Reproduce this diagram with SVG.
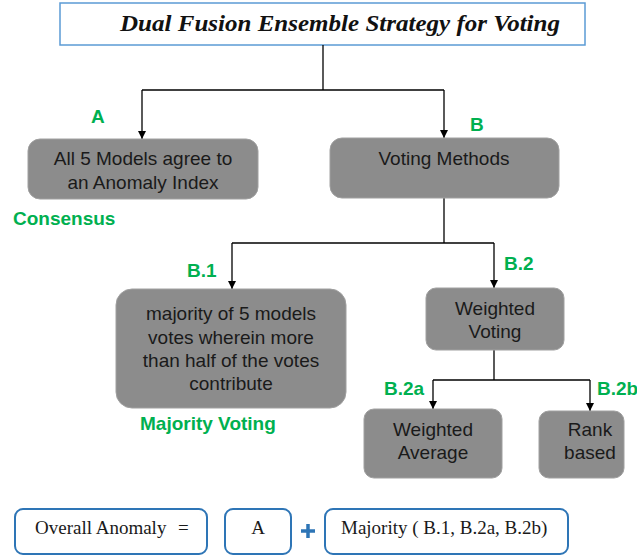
<svg xmlns="http://www.w3.org/2000/svg" width="637" height="559" viewBox="0 0 637 559">
<defs>
<marker id="arr" viewBox="0 0 10 10" refX="10" refY="5" markerWidth="8" markerHeight="8" markerUnits="userSpaceOnUse" orient="auto">
<path d="M0,0 L10,5 L0,10 z" fill="#000"/>
</marker>
<style>
.box{fill:#8c8c8c;stroke:#a0a0a0;stroke-width:1}
.t{font-family:"Liberation Sans",Arial,sans-serif;font-size:19px;fill:#1a1a1a;text-anchor:middle}
.g{font-family:"Liberation Sans",Arial,sans-serif;font-size:19px;font-weight:bold;fill:#00b050}
.con{fill:none;stroke:#000;stroke-width:1.3}
.eq{fill:#fff;stroke:#2e75b6;stroke-width:2}
.s{font-family:"Liberation Serif","Times New Roman",serif;font-size:19px;fill:#1a1a1a}
</style>
</defs>
<rect width="637" height="559" fill="#fff"/>
<g id="title">
<rect x="60" y="3" width="525" height="42" fill="#fff" stroke="#5b9bd5" stroke-width="1.5"/>
<text x="120" y="31" font-family="'Liberation Serif','Times New Roman',serif" font-size="23" font-weight="bold" font-style="italic" fill="#111" textLength="440" lengthAdjust="spacingAndGlyphs">Dual Fusion Ensemble Strategy for Voting</text>
</g>
<g id="connectors">
<path class="con" d="M323,45 V90"/>
<path class="con" d="M142,90 H444"/>
<path class="con" d="M142,90 V139" marker-end="url(#arr)"/>
<path class="con" d="M444,90 V138" marker-end="url(#arr)"/>
<path class="con" d="M444,198 V243"/>
<path class="con" d="M232,243 H494"/>
<path class="con" d="M232,243 V289" marker-end="url(#arr)"/>
<path class="con" d="M494,243 V288" marker-end="url(#arr)"/>
<path class="con" d="M494,350 V380"/>
<path class="con" d="M433,380 H590"/>
<path class="con" d="M433,380 V409" marker-end="url(#arr)"/>
<path class="con" d="M590,380 V411" marker-end="url(#arr)"/>
</g>
<g id="nodeA">
<text class="g" x="91" y="123">A</text>
<rect class="box" x="28" y="139" width="230" height="60" rx="12"/>
<text class="t" x="143" y="165">All 5 Models agree to</text>
<text class="t" x="143" y="189">an Anomaly Index</text>
<text class="g" x="13" y="225" font-size="20.5">Consensus</text>
</g>
<g id="nodeB">
<text class="g" x="470" y="131">B</text>
<rect class="box" x="330" y="138" width="229" height="60" rx="12"/>
<text class="t" x="444" y="165">Voting Methods</text>
</g>
<g id="nodeB1">
<text class="g" x="187" y="277">B.1</text>
<rect class="box" x="116" y="289" width="230" height="119" rx="16"/>
<text class="t" x="231" y="320">majority of 5 models</text>
<text class="t" x="231" y="344">votes wherein more</text>
<text class="t" x="231" y="367">than half of the votes</text>
<text class="t" x="231" y="390">contribute</text>
<text class="g" x="140" y="430" font-size="20.5">Majority Voting</text>
</g>
<g id="nodeB2">
<text class="g" x="504" y="270">B.2</text>
<rect class="box" x="426" y="288" width="138" height="62" rx="10"/>
<text class="t" x="495" y="315">Weighted</text>
<text class="t" x="495" y="338">Voting</text>
</g>
<g id="nodeB2a">
<text class="g" x="384" y="395">B.2a</text>
<rect class="box" x="364" y="409" width="138" height="69" rx="10"/>
<text class="t" x="433" y="436">Weighted</text>
<text class="t" x="433" y="459">Average</text>
</g>
<g id="nodeB2b">
<text class="g" x="597" y="395">B.2b</text>
<rect class="box" x="539" y="411" width="85" height="67" rx="10"/>
<text class="t" x="590" y="436">Rank</text>
<text class="t" x="590" y="459">based</text>
</g>
<g id="formula">
<rect class="eq" x="15" y="509" width="192" height="45" rx="8"/>
<text class="s" x="35" y="534">Overall Anomaly  <tspan x="178">=</tspan></text>
<rect class="eq" x="225" y="509" width="66" height="45" rx="8"/>
<text class="s" x="258" y="534" text-anchor="middle">A</text>
<path d="M308,524 V538 M301,531 H315" stroke="#2e75b6" stroke-width="3.5" fill="none"/>
<rect class="eq" x="325" y="509" width="243" height="45" rx="8"/>
<text class="s" x="341" y="534">Majority ( B.1, B.2a, B.2b)</text>
</g>
</svg>
